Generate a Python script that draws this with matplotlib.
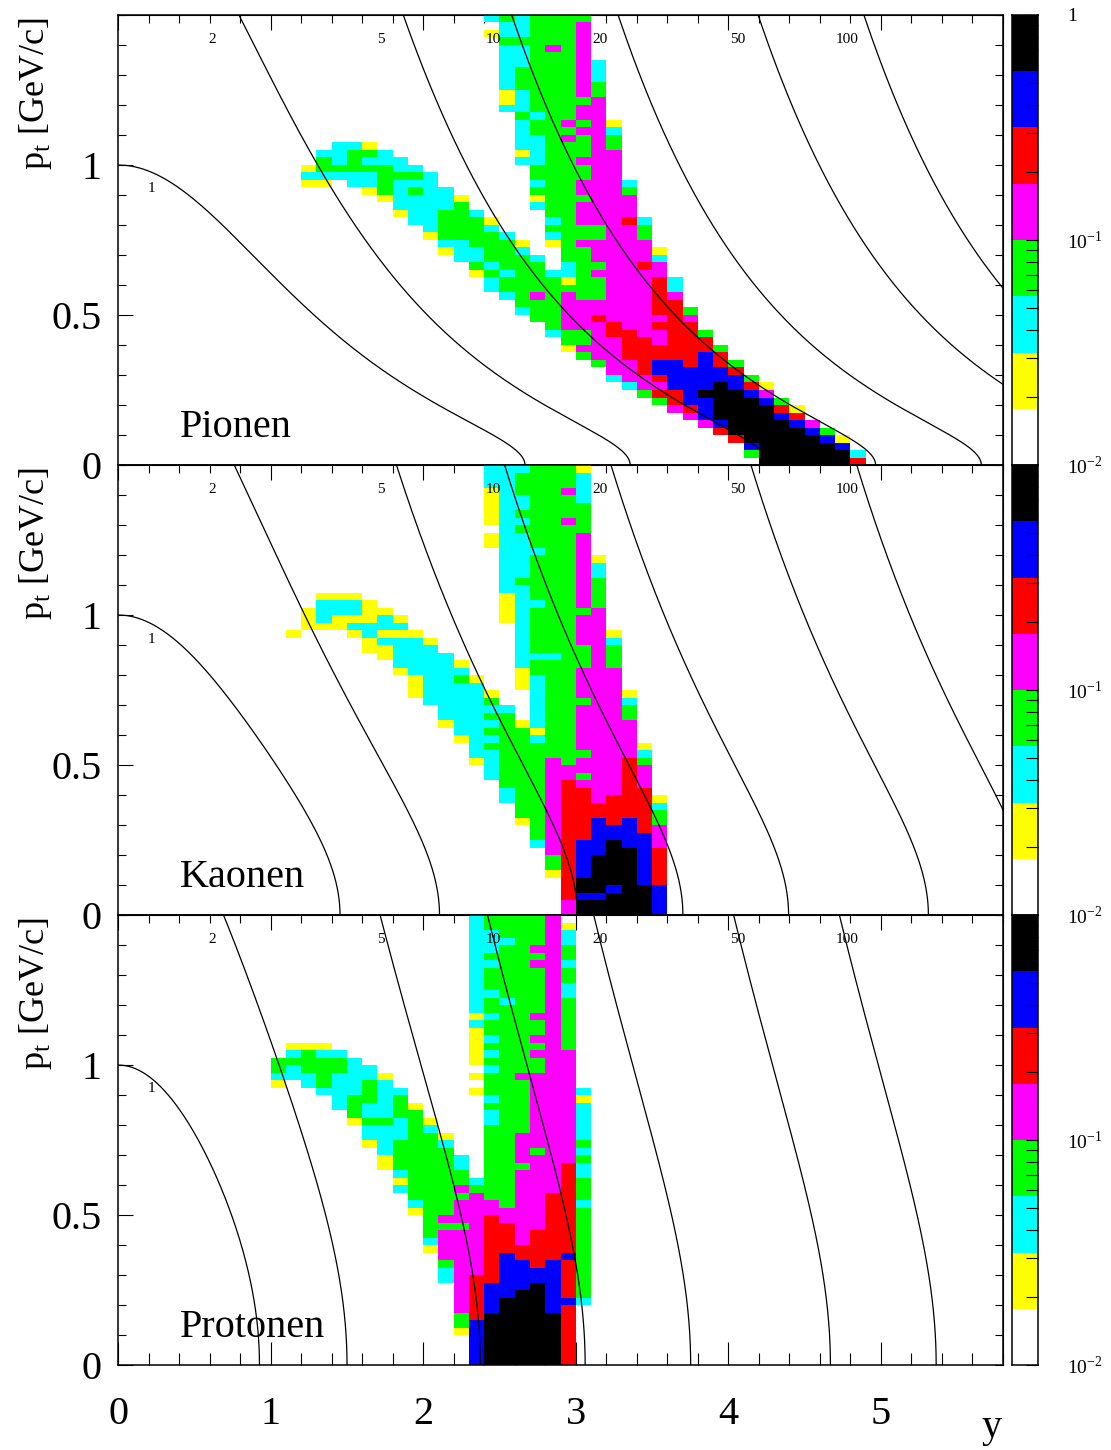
"""Acceptance of pions, kaons and protons in the y-pt plane,
with lines of constant lab momentum (GeV/c) drawn on top."""

import numpy as np
import matplotlib

matplotlib.use("Agg")
import matplotlib.pyplot as plt
from matplotlib.colors import BoundaryNorm, ListedColormap
from matplotlib.ticker import (FixedFormatter, FixedLocator, LogLocator,
                               MultipleLocator, NullFormatter)

plt.rcParams["font.family"] = ["Liberation Serif", "DejaVu Serif"]
plt.rcParams["mathtext.fontset"] = "custom"
plt.rcParams["mathtext.rm"] = "Liberation Serif"

# --- binning and colour levels -------------------------------------------
N_Y, N_PT = 58, 60                      # 0.1 in y, 0.025 GeV/c in pt
Y_EDGES = np.arange(N_Y + 1) * 0.1
PT_EDGES = np.arange(N_PT + 1) * 0.025
LEVEL_CODES = "wycgmrbk"
LEVEL_COLOURS = ["#ffffff", "#ffff00", "#00ffff", "#00ff00",
                 "#ff00ff", "#ff0000", "#0000ff", "#000000"]
LEVEL_BOUNDS = 10.0 ** np.linspace(-2, 0, 9)

# iso-momentum lines
P_LAB = [1, 2, 5, 10, 20, 50, 100]
P_LABEL_POS = [(0.22, 0.92), (0.62, 1.417), (1.72, 1.417), (2.46, 1.417),
               (3.16, 1.417), (4.06, 1.417), (4.78, 1.417)]

PARTICLES = ["Pionen", "Kaonen", "Protonen"]
MASSES = [0.13957, 0.49368, 0.93827]

# cells per pt row, top row (pt 1.475-1.5) first; "col:codes" segments
PION_ROWS = [
    "24:cgcgggg", "25:ccgggm", "24:yccgggm", "25:gggggm", "25:ccgmgm",
    "25:ccgggm", "25:ccgggmc", "25:cggggmc", "25:cggggmc", "25:cggggmg",
    "25:ycgggmg", "25:ycggggm", "25:ccgggmm", "26:gcggmm", "26:cggmgmy",
    "26:cgggmmc", "26:ccgmgmg",
    "14:ccy 26:ccgggmg",
    "13:ccggc 26:ycgggmm",
    "13:gcgccc 26:ccggmmm",
    "12:ygggggcc 27:ggggmm",
    "12:cccccgggc 27:ggggmm",
    "12:yy.ccgccc 27:cggmmmc",
    "16:ygcgcc 27:gggmmmg",
    "17:yccccy 27:ygggmmm",
    "18:ccccg 27:cggmmmm",
    "18:yccggc 28:ggmmmm",
    "19:ccgggy 28:cgmmmrc",
    "20:cgggc 28:ggggmmg",
    "20:yggggc 28:cgggmmg",
    "21:ccgggy 28:ygmmmmm",
    "21:yccggc 29:ggmmmmy",
    "22:ccgggc 29:ggmmmmc",
    "23:gcggg 29:cggmmrm",
    "23:ygcggccgmmmmm",
    "24:cggggyggmmmrc",
    "24:cgggggggmmmrc",
    "25:cgmgmggmmmrm",
    "26:gggmmmmmmrr",
    "26:cggmmmmmmrrg",
    "27:ggmmrmmmmrm",
    "28:gmmmrmmrrr",
    "28:cggmrrmmrrg",
    "29:ggmmrrmrrr",
    "29:ymmmrrrrrrg",
    "30:gmmrrrrrbr",
    "31:gmmrbbrbrg",
    "32:mmrbbbbbr",
    "32:cmmrbbbbbg",
    "33:cmmbbbkbry",
    "34:grrbkkkbm",
    "35:grbbkkkbg",
    "36:mrbkkkkry",
    "37:mbkkkkbr",
    "38:mbkkkkbm",
    "39:rkkkkkbg",
    "40:rkkkkkby",
    "41:bkkkkkb",
    "41:gkkkkkkc",
    "42:kkkkkkr",
]

KAON_ROWS = [
    "24:cccgggy", "24:ccggggc", "24:ccggggc", "24:ycgggmc", "24:yccgggc",
    "24:yccgggg", "24:ycggggg", "24:yccggmg", "25:cggggg", "24:yccgggm",
    "24:yccgggm", "25:cccggm", "25:ccgggmy", "25:ccgggmc", "25:ccgggmc",
    "25:cggggmg", "25:ccgggmg",
    "13:yyy 25:ycgggmg",
    "13:cccy 25:yccggmg",
    "12:ycccyy 25:ycggggm",
    "12:ycyyycy 25:ycgggmm",
    "12:yyycccc 26:cgggmm",
    "11:y 15:ycyyy 26:cgggmmy",
    "16:ycccy 26:cgggmmc",
    "16:yyccc 26:cggggmg",
    "17:ycccc 26:cccggmg",
    "18:ccccy 26:cggggmg",
    "18:ycccc 26:ygggmmm",
    "19:yccgy 26:ycggmmm",
    "19:ycccc 26:ycggmmm",
    "19:yccccy 27:cggmmmy",
    "20:ccccg 27:cgggmmc",
    "21:ccccc 27:cggmmmg",
    "21:cccgg 27:cggmmmg",
    "21:ycccgycggmmmm",
    "22:ccgggyggmmmm",
    "22:yccggcggmmmm",
    "23:cggggggmmmmy",
    "23:ccggggggmmmc",
    "23:ycgggmgmmmrg",
    "24:cgggmmmmmrm",
    "24:cgggmmgmmrm",
    "25:gggmrmmmrm",
    "25:cggmrrmmrr",
    "25:cggmrrmrrry",
    "26:ggmrrrrrrc",
    "26:ggmrrrrrrg",
    "26:ygmrrbrbrg",
    "27:gmrrbbbrm",
    "27:gmrrbbbbm",
    "27:cmrbbkbbm",
    "28:mrbbkkbr",
    "28:grbkkkbr",
    "28:grbkkkbr",
    "28:yrbkkkbr",
    "29:rkkkkbr",
    "29:rkkbkkb",
    "29:rbbkkkb",
    "29:mkkkkkb",
    "29:mkkkkkb",
]

PROTON_ROWS = [
    "23:cggggm", "23:cggggmy", "23:ccgggmc", "23:cccggmc", "23:ccggmmg",
    "23:cggggmg", "23:ccggmmc", "23:cggggmg", "23:cggggmg", "23:cggggmc",
    "23:ccgggmc", "23:cgcggmg", "23:cggggmg", "23:ycggmmg", "23:cggggmg",
    "23:yggggmg", "23:ycggmmg",
    "11:yyy 23:yggggmg",
    "11:cgcc 23:ycggmmm",
    "10:gggggc 23:yggggmm",
    "10:gcgggcc 24:cgggmm",
    "10:cccgcccy 23:yggmmmm",
    "10:y 12:cgccgc 24:gggmmm",
    "13:cccgcc 23:ygggmmmc",
    "14:cggcg 24:cggmmmy",
    "14:cgccgy 24:gggmmmc",
    "15:gccgg 24:cggmmmc",
    "15:yggcgy 24:cggmmmc",
    "16:cccgc 24:gggmmmc",
    "16:cccggy 24:ggmmmmc",
    "16:ycgggc 24:ggmmmmg",
    "17:cgggg 24:ggmgmmc",
    "17:yggggc 24:ggmmmmg",
    "17:yggggc 24:gggmmrc",
    "18:cgggg 24:ggmmmrc",
    "18:yggggcggmmmrg",
    "18:cgggmgggmmmrg",
    "19:ggggmggmmrrg",
    "19:cggmmmgmmrrc",
    "19:yggmmmmmmrrg",
    "20:gmmmrmmmrrg",
    "20:gggmrrmmrrg",
    "20:gmmmrrmrrrg",
    "20:cmmmrrmrrrg",
    "20:ymmmrrrrrrg",
    "21:mmmrbrrrbg",
    "21:gmmrbbrbrg",
    "21:cmmrbbbbrg",
    "21:cmrrbbbbrg",
    "22:mrbbbkbrg",
    "22:mrbbkkbrg",
    "22:mrbkkkbbc",
    "22:mrbkkkbr",
    "22:grkkkkkr",
    "22:gbkkkkkr",
    "22:ybkkkkkr",
    "23:bkkkkkr",
    "23:bkkkkkr",
    "23:bkkkkkr",
    "23:bkkkkkr",
]

CBAR_LABELS = ["10$^{\\mathregular{-2}}$", "10$^{\\mathregular{-1}}$", "1"]


def fill_grid(rows):
    """Turn the row strings into a masked (pt, y) array of level values."""
    grid = np.full((N_PT, N_Y), np.nan)
    for r, row in enumerate(rows):
        for segment in row.split():
            start, codes = segment.split(":")
            for k, code in enumerate(codes):
                if code == ".":
                    continue
                lvl = LEVEL_CODES.index(code)
                grid[N_PT - 1 - r, int(start) + k] = np.sqrt(
                    LEVEL_BOUNDS[lvl] * LEVEL_BOUNDS[lvl + 1])
    return np.ma.masked_invalid(grid)


def iso_momentum(p, mass):
    """y(pt) for a fixed lab momentum p."""
    pt = np.linspace(0.0, min(p, 1.5), 800)
    y = np.arcsinh(np.sqrt(np.clip(p**2 - pt**2, 0, None))
                   / np.sqrt(pt**2 + mass**2))
    return y, pt


W, H = 1111, 1450
fig = plt.figure(figsize=(W / 100, H / 100), dpi=100)
cmap = ListedColormap(LEVEL_COLOURS)
norm = BoundaryNorm(LEVEL_BOUNDS, cmap.N)
level_mid = np.sqrt(LEVEL_BOUNDS[:-1] * LEVEL_BOUNDS[1:])

for i, (name, mass, rows) in enumerate(
        zip(PARTICLES, MASSES, [PION_ROWS, KAON_ROWS, PROTON_ROWS])):
    top_px = 15 + 450 * i
    bottom = 1 - (top_px + 450) / H
    ax = fig.add_axes([118 / W, bottom, 885 / W, 450 / H])
    ax.pcolormesh(Y_EDGES, PT_EDGES, fill_grid(rows), cmap=cmap, norm=norm)
    for p in P_LAB:
        y, pt = iso_momentum(p, mass)
        ax.plot(y, pt, color="black", lw=0.9)
    for p, (yx, ptx) in zip(P_LAB, P_LABEL_POS):
        ax.text(yx, ptx, str(p), fontsize=11, ha="center", va="center")
    ax.text(0.406, 0.093, name, fontsize=29, va="baseline")
    ax.set_xlim(0, 5.8)
    ax.set_ylim(0, 1.5)
    for sp in ax.spines.values():
        sp.set_linewidth(1.1)

    # x ticks: top on every panel, bottom (with labels) on the last one
    ax.xaxis.set_major_locator(MultipleLocator(1))
    ax.xaxis.set_minor_locator(MultipleLocator(0.2))
    if i < 2:
        ax.tick_params(axis="x", which="both", bottom=False, top=False,
                       labelbottom=False)
    else:
        ax.tick_params(axis="x", which="major", direction="in", length=16.5,
                       width=0.8, labelsize=29, pad=22, top=False)
        ax.tick_params(axis="x", which="minor", direction="in", length=8.6,
                       width=0.8, top=False)
    sec = ax.secondary_xaxis("top")
    sec.xaxis.set_major_locator(MultipleLocator(1))
    sec.xaxis.set_minor_locator(MultipleLocator(0.2))
    sec.xaxis.set_major_formatter(NullFormatter())
    sec.tick_params(which="major", direction="in", length=10.8, width=0.8)
    sec.tick_params(which="minor", direction="in", length=5.4, width=0.8)

    # y ticks
    ax.yaxis.set_major_locator(FixedLocator([0, 0.5, 1]))
    ax.yaxis.set_major_formatter(FixedFormatter(["0", "0.5", "1"]))
    ax.yaxis.set_minor_locator(MultipleLocator(0.1))
    ax.tick_params(axis="y", which="major", direction="in", length=10.8,
                   width=0.8, labelsize=29, pad=12, right=False)
    ax.tick_params(axis="y", which="minor", direction="in", length=5.4,
                   width=0.8, right=False)
    sec_y = ax.secondary_yaxis("right")
    sec_y.yaxis.set_major_locator(MultipleLocator(0.1))
    sec_y.yaxis.set_major_formatter(NullFormatter())
    sec_y.tick_params(which="major", direction="in", length=5.8, width=0.8)

    fig.text(35 / W, 1 - (top_px + 2) / H, "p$_{\\mathregular{t}}$ [GeV/c]",
             rotation=90, ha="center", va="top", fontsize=26)

    # colour scale
    cax = fig.add_axes([1012 / W, bottom, 26 / W, 450 / H])
    cax.pcolormesh([0, 1], LEVEL_BOUNDS, level_mid.reshape(-1, 1),
                   cmap=cmap, norm=norm)
    cax.set_yscale("log")
    cax.set_ylim(0.01, 1)
    cax.set_xlim(0, 1)
    cax.set_xticks([])
    cax.yaxis.tick_right()
    cax.yaxis.set_major_locator(FixedLocator([0.01, 0.1, 1]))
    labels = CBAR_LABELS if i == 0 else CBAR_LABELS[:2] + [""]
    cax.yaxis.set_major_formatter(FixedFormatter(labels))
    cax.yaxis.set_minor_locator(LogLocator(base=10, subs=np.arange(2, 10),
                                           numticks=20))
    cax.yaxis.set_minor_formatter(NullFormatter())
    cax.tick_params(axis="y", which="both", direction="in", length=8.6,
                    width=0.8, left=False, right=True, labelsize=14, pad=21)
    for sp in cax.spines.values():
        sp.set_linewidth(1.1)

fig.text(992 / W, 1 - 1437 / H, "y", fontsize=29, ha="center", va="baseline")

fig.savefig("out.png", dpi=100)
